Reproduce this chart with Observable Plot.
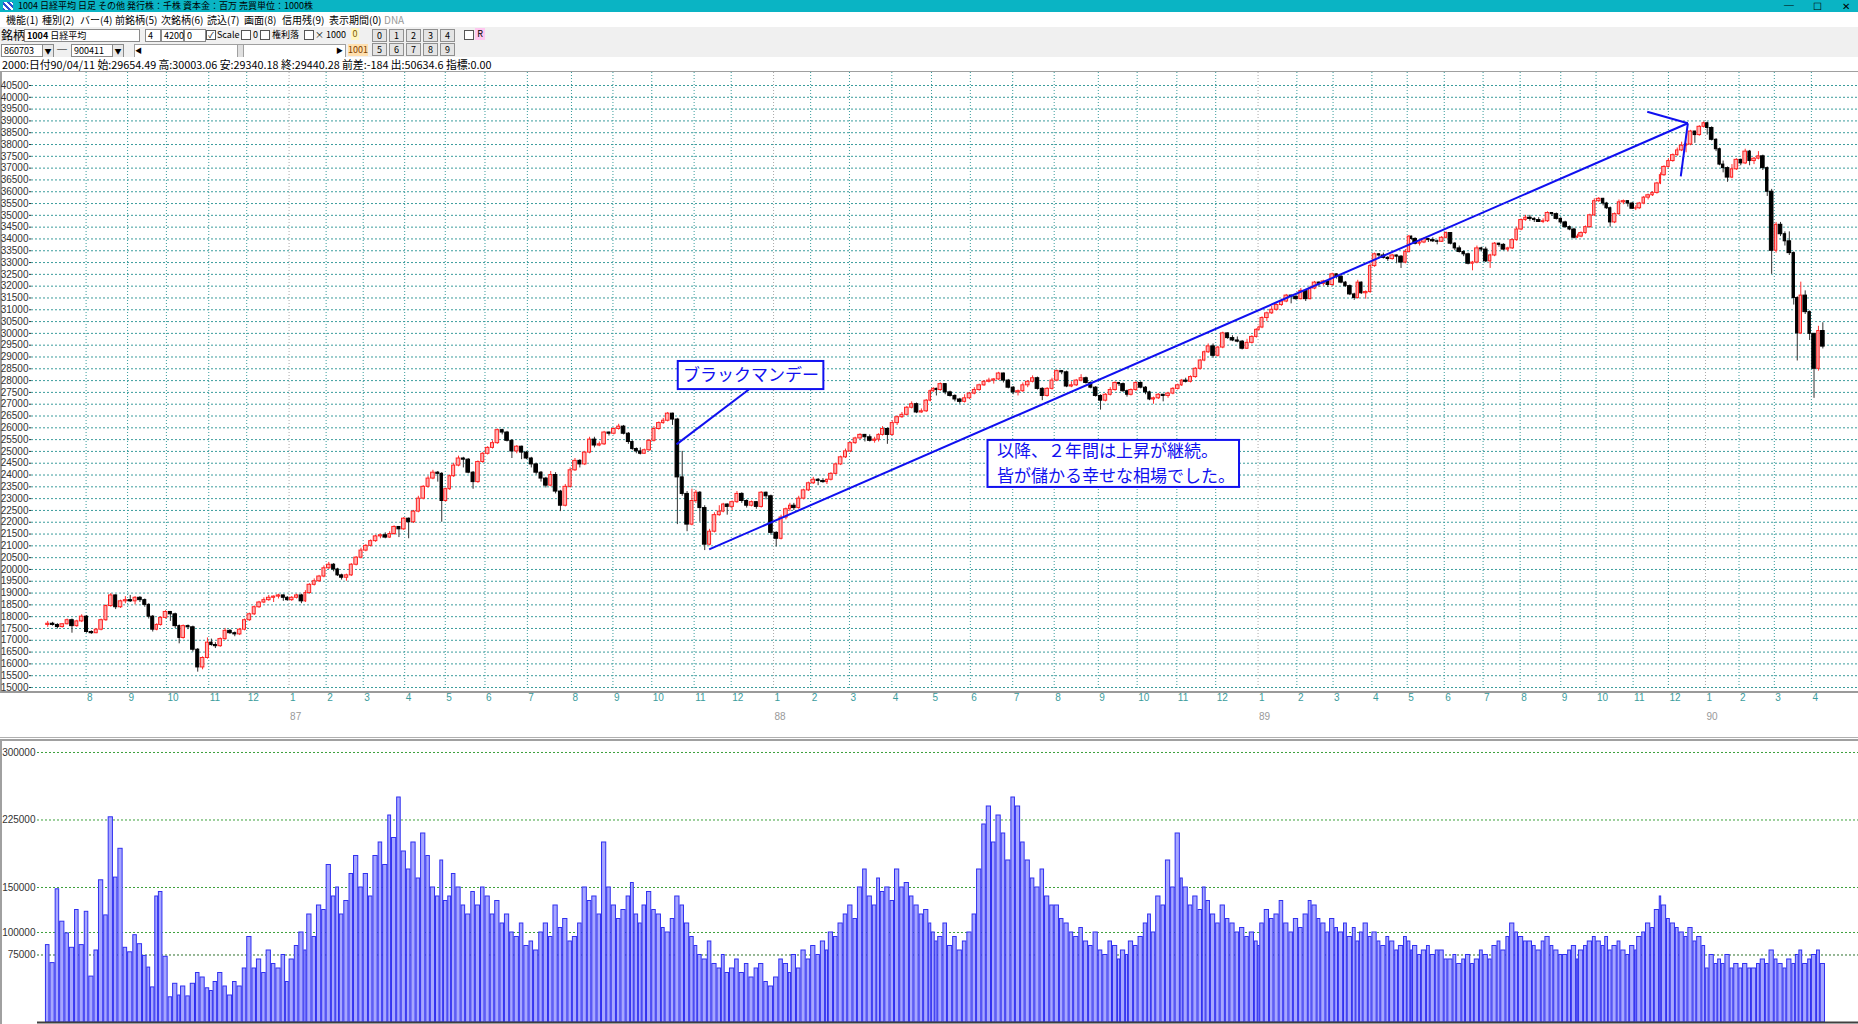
<!DOCTYPE html>
<html lang="ja"><head><meta charset="utf-8">
<script src="https://cdn.jsdelivr.net/npm/d3@7"></script>
<script src="https://cdn.jsdelivr.net/npm/@observablehq/plot@0.6"></script>
<style>
html,body{margin:0;padding:0}
body{width:1858px;height:1024px;overflow:hidden;background:#fff;position:relative;font-family:"Noto Sans CJK JP","Liberation Sans",sans-serif;color:#000}
.a{position:absolute;white-space:nowrap}
#titlebar{left:0;top:0;width:1858px;height:12px;background:#0ab4c4;font-size:9px;line-height:12px}
#menubar{left:0;top:12px;width:1858px;height:15px;background:#fff;font-size:10px;line-height:15px}
#toolbar{left:0;top:27px;width:1858px;height:30px;background:#f0f0f0;font-size:10px}
#info{left:0;top:57px;width:1858px;height:14px;font-size:10.8px;line-height:14px;background:#fff}
#pricePanel{left:0;top:71px;width:1858px;height:622px;border-top:1px solid #a0a0a0;border-left:2px solid #a0a0a0;border-bottom:2px solid #9a9a9a;box-sizing:border-box}
#sep{left:0;top:737px;width:1858px;height:4px;border-top:1px solid #b0b0b0;border-bottom:2px solid #a0a0a0;box-sizing:border-box}
#volPanel{left:0;top:741px;width:1858px;height:283px;border-left:2px solid #a0a0a0;box-sizing:border-box}
#price{left:0;top:72px}
#volume{left:0;top:741px}
.in{position:absolute;background:#fff;border:1px solid #8a8a8a;height:11px;font-size:9px;line-height:11px;padding-left:2px;box-sizing:content-box}
.btn{position:absolute;width:13px;height:11px;border:1px solid #909090;background:#e4e4e4;font-size:9px;line-height:11px;text-align:center}
.cb{position:absolute;width:8px;height:8px;border:1px solid #555;background:#fff;font-size:8px;line-height:8px;text-align:center}
</style></head><body>
<div id="titlebar" class="a"><span class="a" style="left:3px;top:2px;width:10px;height:8px;background:repeating-linear-gradient(45deg,#3050d0 0 2px,#fff 2px 4px)"></span><span class="a" style="left:18px">1004 日経平均 日足 その他 発行株：千株 資本金：百万 売買単位：1000株</span><span class="a" style="left:1784px;font-size:10px">─</span><span class="a" style="left:1813px;font-size:10px">☐</span><span class="a" style="left:1842px;font-size:10px">✕</span></div>
<div id="menubar" class="a"><span class="a" style="left:6px">機能(1)</span><span class="a" style="left:42px">種別(2)</span><span class="a" style="left:80px">バー(4)</span><span class="a" style="left:115px">前銘柄(5)</span><span class="a" style="left:161px">次銘柄(6)</span><span class="a" style="left:207px">読込(7)</span><span class="a" style="left:244px">画面(8)</span><span class="a" style="left:282px">信用残(9)</span><span class="a" style="left:329px">表示期間(0)</span><span class="a" style="left:384px;color:#999">DNA</span></div>
<div id="toolbar" class="a">
<span class="a" style="left:1px;top:1px;font-size:12px;line-height:13px">銘柄</span>
<span class="in" style="left:24px;top:2px;width:112px"><b>1004</b> 日経平均</span>
<span class="in" style="left:145px;top:2px;width:12px">4</span>
<span class="in" style="left:161px;top:2px;width:19px">4200</span>
<span class="in" style="left:184px;top:2px;width:18px">0</span>
<span class="cb" style="left:206px;top:3px">✓</span><span class="a" style="left:217px;top:1px;font-size:9px;line-height:14px">Scale</span>
<span class="cb" style="left:241px;top:3px"></span><span class="a" style="left:253px;top:1px;font-size:9px;line-height:14px">0</span>
<span class="cb" style="left:260px;top:3px"></span><span class="a" style="left:272px;top:1px;font-size:9px;line-height:14px">権利落</span>
<span class="cb" style="left:304px;top:3px"></span><span class="a" style="left:315px;top:1px;font-size:9px;line-height:14px">× 1000</span>
<span class="a" style="left:351px;top:1px;width:8px;height:12px;background:#fff6c0;font-size:9px;line-height:12px;color:#806000;text-align:center">0</span>
<span class="btn" style="left:372px;top:2px">0</span><span class="btn" style="left:389px;top:2px">1</span><span class="btn" style="left:406px;top:2px">2</span><span class="btn" style="left:423px;top:2px">3</span><span class="btn" style="left:440px;top:2px">4</span>
<span class="cb" style="left:464px;top:3px"></span><span class="a" style="left:475px;top:1px;width:10px;height:12px;background:#ffc8f0;font-size:9px;line-height:12px;text-align:center">R</span>
<span class="in" style="left:1px;top:17px;width:40px">860703</span><span class="a" style="left:42px;top:17px;width:10px;height:12px;border:1px solid #8a8a8a;background:#e8e8e8;font-size:7px;line-height:12px;text-align:center">▼</span>
<span class="a" style="left:57px;top:15px;font-size:10px">─</span>
<span class="in" style="left:71px;top:17px;width:40px">900411</span><span class="a" style="left:112px;top:17px;width:10px;height:12px;border:1px solid #8a8a8a;background:#e8e8e8;font-size:7px;line-height:12px;text-align:center">▼</span>
<span class="a" style="left:134px;top:17px;width:210px;height:12px;border:1px solid #a0a0a0;background:#fff"></span><span class="a" style="left:135px;top:18px;font-size:7px">◀</span><span class="a" style="left:336px;top:18px;font-size:7px">▶</span><span class="a" style="left:237px;top:17px;width:5px;height:12px;border:1px solid #a0a0a0;background:#e0e0e0"></span>
<span class="a" style="left:348px;top:17px;width:20px;height:12px;background:#ffe0b0;font-size:9px;line-height:12px;color:#804000;text-align:center">1001</span>
<span class="btn" style="left:372px;top:16px">5</span><span class="btn" style="left:389px;top:16px">6</span><span class="btn" style="left:406px;top:16px">7</span><span class="btn" style="left:423px;top:16px">8</span><span class="btn" style="left:440px;top:16px">9</span>
</div>
<div id="info" class="a"><span class="a" style="left:2px">2000:日付90/04/11 始:29654.49 高:30003.06 安:29340.18 終:29440.28 前差:-184 出:50634.6 指標:0.00</span></div>
<div id="pricePanel" class="a"></div>
<div id="sep" class="a"></div>
<div id="volPanel" class="a"></div>
<div id="price" class="a"></div>
<div id="volume" class="a"></div>
<script>
// ---- data: half-week candles (Mon-Wed, Thu-Sat) of the Nikkei 225, 1986-07-03 .. 1990-04-11
// two entries per week; null = no trading in that half-week
const open = [
null,17650, 17700,17650, 17560,17680, 17850,17600, 17800,18000, 17350,17300, 17450,17850, 18450,18900, 18400,18650, 18700,18650, 18800,18700, 18500,18000, 17450,17650, 17950,18200, 18100,17600, 17100,17600, 17550,16600, 15850,16250, 16900,16800, 16750,17050, 17400,17300, 17250,17450, 17850,18100, 18400,18600, 18700,18800, 18850,18900, 18800,null,
18700,18800, 18900,18650, 19000,19350, 19500,19700, 20050,20200, 20000,19750, 19650,19750, 20200,20500, 20800,21000, 21200,21400, 21450,21350, 21500,21800, 21700,22150, 22000,22450, 23000,23500, 23850,24100, 24050,22900, 23400,23950, 24400,24700, 24650,24100, 23700,24550, 24900,25150, 25350,25900, 25800,25450, 25000,25200, 24950,24700, 24450,24100, 23850,23550, 24000,23300, 22700,23500, 24200,24600, 24450,24950, 25500,25250, 25300,25800, 25750,25950, 26050,25750, 25400,25100, 25000,24900, 25050,25450, 25950,26200, 26300,26600, 26350,23900, 23200,21900, 22900,23250, 22600,21050, 21600,22300, 22450,22750, 22650,22850, 23200,22900, 22700,22850, 22650,23250, 23100,null,
21550,21300, 22200,22550, 22700,22600, 23000,23350, 23650,23800, 23750,23700, 23800,24050, 24450,24750, 25000,25350, 25550,25700, 25600,25450, 25500,25700, 25950,25700, 26200,26450, 26550,26850, 27000,26650, 26700,27150, 27550,27650, 27600,27850, 27500,27350, 27200,27100, 27250,27450, 27600,27800, 27950,28000, 28050,28300, 28000,27700, 27500,27550, 27800,27950, 28100,27650, 27350,27650, 28000,28400, 28350,27750, 27800,28000, 28100,27900, 27700,27350, 27150,27400, 27600,27900, 27850,27550, 27400,27600, 27900,27700, 27500,27200, 27250,27400, 27350,27450, 27650,27800, 28000,27950, 28150,28500, 28850,29200, 29450,29050, 29400,30000, 29800,29700, 29650,29350, 29600,29850,
30150,30250, 30650,30850, 31000,31200, 31350,31600, 31550,31450, 31800,31450, 31900,32150, 32100,32200, 32050,32500, 32400,32150, 32000,31650, 31500,32150, 31700,31750, 32850,33350, 33300,33200, 33150,33300, 33250,33000, 33450,34100, 34000,33800, 33850,34000, 33950,33900, 33880,34050, 34250,33800, 33600,33450, 33350,32950, 33000,33600, 33550,33050, 33300,33800, 33750,33550, 33600,33950, 34400,34800, 34900,34850, 34800,34720, 34750,35100, 35050,34850, 34700,34500, 34400,34050, 34100,34250, 34500,35000, 35600,35700, 35500,35300, 34700,35050, 35550,35600, 35500,35280, 35300,35500, 35750,35850, 35950,36350, 36700,37050, 37300,37550, 37750,37950, 38000,38550, 38400,38750,
null,38900, 38700,38200, 37800,37150, 37000,36600, 36950,37350, 37200,37700, 37300,37400, 37500,37000, 36000,33500, 34600,34200, 33900,33400, 31500,30000, 31600,30900, 29980,28500, 30100,null];
const high = [
null,17800, 17760,17700, 17700,17900, 17900,17850, 18080,18050, 17400,17500, 17900,18500, 18980,18920, 18700,18850, 18900,18850, 18850,18750, 18550,18050, 17700,18000, 18250,18220, 18150,17650, 17650,17650, 17600,16650, 16300,17100, 17050,16900, 17100,17500, 17450,17350, 17500,17900, 18150,18450, 18650,18800, 18900,18880, 18950,18920, 18850,null,
18850,18950, 18950,19100, 19400,19600, 19750,20150, 20300,20250, 20050,19800, 19800,20250, 20550,20900, 21050,21250, 21450,21500, 21550,21600, 21850,21820, 22200,22180, 22500,23100, 23550,23950, 24200,24150, 24100,23450, 24000,24500, 24800,24750, 24700,24150, 24600,24950, 25200,25450, 25950,25940, 25850,25500, 25250,25220, 25000,24750, 24500,24150, 23900,24150, 24100,23350, 23600,24300, 24700,24650, 25000,25600, 25600,25400, 25850,25820, 26000,26150, 26100,25800, 25450,25150, 25150,25100, 25500,26050, 26250,26400, 26650,26620, 26400,25000, 23300,23400, 23350,23300, 22700,21700, 22400,22700, 22800,22780, 22900,23300, 23250,22950, 22900,22880, 23300,23280, 23150,null,
21600,22300, 22600,22800, 22800,23100, 23400,23700, 23900,23850, 23850,23820, 24100,24500, 24800,25100, 25400,25600, 25750,25720, 25700,25600, 25750,26050, 26000,26300, 26500,26650, 26900,27100, 27050,26800, 27200,27600, 27700,27680, 27900,27870, 27550,27400, 27250,27400, 27500,27700, 27850,28000, 28100,28080, 28350,28320, 28050,27750, 27600,27900, 28000,28200, 28150,27700, 27700,28100, 28450,28430, 28400,27950, 28050,28250, 28150,27950, 27750,27400, 27450,27700, 27950,27920, 27900,27600, 27650,27950, 27950,27750, 27550,27300, 27450,27420, 27500,27700, 27850,28050, 28100,28200, 28550,28900, 29250,29550, 29550,29450, 30050,30020, 29900,29850, 29700,29750, 29900,30200,
30300,30700, 30900,31150, 31250,31450, 31650,31620, 31600,31900, 31850,32000, 32200,32180, 32250,32220, 32550,32520, 32450,32200, 32050,31700, 32250,32180, 31800,32950, 33400,33380, 33400,33250, 33350,33320, 33300,33550, 34150,34120, 34050,33900, 34050,34020, 34050,33950, 34100,34300, 34250,33850, 33700,33500, 33400,33050, 33700,33650, 33650,33350, 33850,33820, 33800,33650, 34000,34500, 34850,35000, 35000,34900, 34900,34850, 35150,35120, 35100,34900, 34750,34550, 34450,34200, 34300,34550, 35050,35700, 35750,35720, 35550,35350, 35100,35650, 35650,35620, 35550,35400, 35550,35800, 35900,36000, 36400,36800, 37100,37400, 37600,37850, 38100,38050, 38600,38560, 38800,38960,
null,38950, 38750,38250, 37850,37300, 37050,37150, 37400,37380, 37800,37750, 37450,37700, 37550,37050, 36100,34700, 34700,34300, 34300,33450, 31550,32170, 31800,30950, 30000,30300, 30450,null];
const low = [
null,17550, 17600,17480, 17520,17650, 17300,17550, 17750,17300, 17250,17280, 17400,17800, 18400,18300, 18350,18550, 18600,18500, 18600,18400, 17900,17350, 17400,17600, 17900,17800, 17500,16850, 17050,17450, 16500,15650, 15750,16200, 16750,16650, 16700,17000, 17250,17150, 17200,17400, 17800,18050, 18350,18550, 18650,18600, 18750,18650, 18650,null,
18650,18750, 18550,18600, 18950,19300, 19450,19650, 20000,19900, 19700,19550, 19500,19700, 20150,20450, 20750,20950, 21150,21300, 21300,21320, 21450,21350, 21650,21300, 21950,22400, 22950,23450, 23800,23700, 22000,22850, 23350,23900, 24350,24300, 24050,23400, 23650,24500, 24850,25100, 25300,25700, 25400,24700, 24900,24650, 24650,24300, 24000,23700, 23450,23500, 23200,22450, 22650,23450, 24150,24300, 24400,24900, 25150,25200, 25250,25650, 25700,25900, 25700,25300, 25050,24900, 24850,24870, 25000,25400, 25900,26150, 26250,26100, 21900,23100, 21600,21850, 22800,22000, 20800,21000, 21550,22250, 22400,22300, 22500,22800, 22800,22600, 22650,22550, 22600,22950, 21450,null,
20950,21250, 22100,22450, 22500,22550, 22950,23300, 23600,23550, 23650,23600, 23750,24000, 24400,24700, 24950,25300, 25500,25400, 25400,25350, 25400,25650, 25300,25650, 26100,26400, 26500,26800, 26600,26620, 26650,27100, 27500,27350, 27550,27400, 27300,27100, 27000,27050, 27200,27400, 27550,27750, 27900,27850, 28000,27900, 27650,27400, 27350,27500, 27700,27900, 27600,27150, 27300,27600, 27950,28250, 27700,27700, 27750,27950, 27850,27650, 27300,26750, 27100,27350, 27550,27750, 27500,27300, 27350,27550, 27650,27400, 27150,27000, 27200,27100, 27250,27400, 27600,27750, 27900,27900, 28100,28450, 28800,29150, 28950,29000, 29350,29750, 29650,29600, 29300,29320, 29550,29800,
30100,30200, 30500,30800, 30950,31150, 31300,31250, 31400,31420, 31350,31420, 31850,31950, 32000,31950, 32000,32300, 32100,31950, 31600,31400, 31450,31650, 31450,31700, 32800,33200, 33150,33050, 33100,32950, 32750,32950, 33400,33950, 33750,33700, 33800,33850, 33850,33750, 33850,34000, 33750,33500, 33400,33250, 32900,32650, 32950,33450, 33000,32750, 33250,33650, 33500,33450, 33550,33900, 34350,34750, 34750,34700, 34700,34650, 34700,34950, 34800,34600, 34450,34350, 34000,34020, 34050,34200, 34450,34950, 35550,35400, 35250,34500, 34650,35000, 35450,35350, 35250,35200, 35250,35450, 35650,35800, 35900,36300, 36650,37000, 37250,37500, 37700,37650, 37950,38050, 38350,38700,
null,38400, 38150,37700, 37100,36800, 36400,36550, 36900,37100, 37150,37100, 37150,37350, 36900,35800, 32500,33400, 34100,33700, 33300,31200, 28830,29950, 30800,29700, 27250,28400, 29340,null];
const close = [
null,17700, 17650,17560, 17680,17850, 17600,17800, 18000,17350, 17300,17450, 17850,18450, 18900,18400, 18650,18700, 18650,18800, 18700,18500, 18000,17450, 17650,17950, 18200,18100, 17600,17100, 17600,17550, 16600,15850, 16250,16900, 16800,16750, 17050,17400, 17300,17250, 17450,17850, 18100,18400, 18600,18700, 18800,18850, 18900,18800, 18700,null,
18800,18900, 18650,19000, 19350,19500, 19700,20050, 20200,20000, 19750,19650, 19750,20200, 20500,20800, 21000,21200, 21400,21450, 21350,21500, 21800,21700, 22150,22000, 22450,23000, 23500,23850, 24100,24050, 22900,23400, 23950,24400, 24700,24650, 24100,23700, 24550,24900, 25150,25350, 25900,25800, 25450,25000, 25200,24950, 24700,24450, 24100,23850, 23550,24000, 23300,22700, 23500,24200, 24600,24450, 24950,25500, 25250,25300, 25800,25750, 25950,26050, 25750,25400, 25100,25000, 24900,25050, 25450,25950, 26200,26300, 26600,26350, 23900,23200, 21900,22900, 23250,22600, 21050,21600, 22300,22450, 22750,22650, 22850,23200, 22900,22700, 22850,22650, 23250,23100, 21550,null,
21300,22200, 22550,22700, 22600,23000, 23350,23650, 23800,23750, 23700,23800, 24050,24450, 24750,25000, 25350,25550, 25700,25600, 25450,25500, 25700,25950, 25700,26200, 26450,26550, 26850,27000, 26650,26700, 27150,27550, 27650,27600, 27850,27500, 27350,27200, 27100,27250, 27450,27600, 27800,27950, 28000,28050, 28300,28000, 27700,27500, 27550,27800, 27950,28100, 27650,27350, 27650,28000, 28400,28350, 27750,27800, 28000,28100, 27900,27700, 27350,27150, 27400,27600, 27900,27850, 27550,27400, 27600,27900, 27700,27500, 27200,27250, 27400,27350, 27450,27650, 27800,28000, 27950,28150, 28500,28850, 29200,29450, 29050,29400, 30000,29800, 29700,29650, 29350,29600, 29850,30150,
30250,30650, 30850,31000, 31200,31350, 31600,31550, 31450,31800, 31450,31900, 32150,32100, 32200,32050, 32500,32400, 32150,32000, 31650,31500, 32150,31700, 31750,32850, 33350,33300, 33200,33150, 33300,33250, 33000,33450, 34100,34000, 33800,33850, 34000,33950, 33900,33880, 34050,34250, 33800,33600, 33450,33350, 32950,33000, 33600,33550, 33050,33300, 33800,33750, 33550,33600, 33950,34400, 34800,34900, 34850,34800, 34720,34750, 35100,35050, 34850,34700, 34500,34400, 34050,34100, 34250,34500, 35000,35600, 35700,35500, 35300,34700, 35050,35550, 35600,35500, 35280,35300, 35500,35750, 35850,35950, 36350,36700, 37050,37300, 37550,37750, 37950,38000, 38550,38400, 38750,38900,
null,38700, 38200,37800, 37150,37000, 36600,36950, 37350,37200, 37700,37300, 37400,37500, 37000,36000, 33500,34600, 34200,33900, 33400,31500, 30000,31600, 30900,29980, 28500,30100, 29440,null];
const volume = [
null,86000, 66000,148000, 112000,99000, 83000,125000, 86000,123000, 51000,80000, 158000,119000, 228000,161000, 193000,83000, 78000,97000, 87000,74000, 61000,39000, 140000,145000, 73000,28000, 43000,30000, 40000,29000, 43000,55000, 50000,38000, 35000,45000, 55000,40000, 30000,45000, 40000,60000, 95000,60000, 70000,55000, 80000,65000, 60000,75000, 45000,null,
70000,85000, 100000,80000, 120000,95000, 130000,125000, 175000,140000, 150000,120000, 135000,165000, 185000,150000, 165000,140000, 185000,200000, 175000,230000, 205000,250000, 190000,170000, 200000,160000, 210000,185000, 150000,140000, 180000,135000, 140000,165000, 150000,130000, 120000,145000, 130000,150000, 140000,120000, 135000,110000, 120000,100000, 95000,110000, 85000,90000, 80000,100000, 110000,95000, 130000,105000, 115000,90000, 95000,110000, 150000,135000, 140000,120000, 200000,150000, 130000,115000, 125000,140000, 155000,120000, 110000,130000, 145000,125000, 120000,105000, 100000,115000, 140000,130000, 110000,95000, 85000,75000, 70000,90000, 65000,60000, 75000,55000, 60000,70000, 55000,65000, 50000,60000, 65000,45000, 40000,null,
50000,70000, 65000,55000, 75000,60000, 80000,70000, 85000,75000, 90000,80000, 100000,95000, 110000,120000, 130000,115000, 150000,170000, 140000,130000, 160000,145000, 150000,135000, 170000,150000, 155000,140000, 130000,120000, 125000,110000, 100000,90000, 95000,110000, 85000,95000, 80000,90000, 100000,120000, 170000,220000, 240000,200000, 230000,210000, 180000,250000, 240000,200000, 180000,160000, 150000,170000, 140000,130000, 130000,115000, 110000,100000, 95000,105000, 90000,85000, 100000,80000, 75000,90000, 85000,70000, 80000,75000, 90000,85000, 95000,110000, 120000,100000, 140000,130000, 180000,150000, 210000,160000, 150000,130000, 140000,125000, 150000,135000, 120000,110000, 130000,115000, 110000,100000, 105000,95000, 100000,90000,
85000,110000, 125000,115000, 120000,135000, 110000,100000, 115000,105000, 120000,135000, 130000,115000, 110000,100000, 115000,105000, 100000,110000, 95000,105000, 90000,100000, 110000,95000, 100000,90000, 85000,95000, 90000,80000, 85000,95000, 90000,80000, 85000,75000, 80000,85000, 75000,80000, 80000,70000, 70000,75000, 65000,70000, 75000,65000, 70000,80000, 75000,70000, 85000,90000, 80000,95000, 110000,100000, 95000,90000, 90000,85000, 80000,90000, 95000,85000, 80000,75000, 75000,80000, 85000,70000, 80000,85000, 90000,95000, 90000,85000, 95000,80000, 85000,90000, 80000,75000, 85000,80000, 95000,100000, 110000,105000, 125000,140000, 130000,115000, 110000,105000, 100000,95000, 105000,90000, 95000,85000,
null,60000, 75000,65000, 70000,65000, 75000,60000, 65000,60000, 65000,60000, 60000,65000, 70000,65000, 80000,70000, 65000,60000, 70000,65000, 75000,80000, 65000,70000, 75000,80000, 65000,null];
const priceTicks = [15000,15500,16000,16500,17000,17500,18000,18500,19000,19500,20000,20500,21000,21500,22000,22500,23000,23500,24000,24500,25000,25500,26000,26500,27000,27500,28000,28500,29000,29500,30000,30500,31000,31500,32000,32500,33000,33500,34000,34500,35000,35500,36000,36500,37000,37500,38000,38500,39000,39500,40000,40500];
const volumeTicks = [75000,100000,150000,225000,300000];
const yearLabels = ["87","88","89","90"];
const blackMondayText = "ブラックマンデー";
const noteLines = ["以降、２年間は上昇が継続。", "皆が儲かる幸せな相場でした。"];

// ---- trading-day calendar (x position = trading day count, like the original app)
const DAY = 864e5;
const FIRST = Date.UTC(1986,6,3), LAST = Date.UTC(1990,3,11), SAT_END = Date.UTC(1989,1,11);
const holidays = new Set(["0-1","0-2","0-3","0-15","1-11","2-21","3-29","4-3","4-5","8-15","8-23","9-10","10-3","10-23","11-31"]);
function weight(t){
  if (t < FIRST || t > LAST) return 0;
  const d = new Date(t), dow = d.getUTCDay();
  if (dow === 0) return 0;
  if (holidays.has(d.getUTCMonth()+"-"+d.getUTCDate())) return 0;
  if (dow === 6) return t < SAT_END ? 0.5 : 0;
  return 1;
}
const cum = new Map(); let acc = 0;
for (let t = Date.UTC(1986,5,1); t <= Date.UTC(1990,5,1); t += DAY){ cum.set(t, acc); acc += weight(t); }
const idx = d => cum.get(+d);
const U = (y,m,d) => new Date(Date.UTC(y,m-1,d));
const idxEnd = idx(U(1990,4,12));

// half-week periods: Monday (Mon-Wed) and Thursday (Thu-Sat)
const periods = [];
for (const m of d3.utcMonday.range(U(1986,6,30), U(1990,4,10))) {
  periods.push([m, new Date(+m + 3*DAY)], [new Date(+m + 3*DAY), new Date(+m + 7*DAY)]);
}
const n = Math.min(periods.length, open.length, high.length, low.length, close.length, volume.length);
const candles = [];
for (let i = 0; i < n; i++) {
  if (open[i] == null) continue;
  const a = idx(periods[i][0]), b = idx(periods[i][1]), c = (a+b)/2, w = (b-a)*0.34;
  candles.push({a, b, c, x1: c-w, x2: c+w, open: open[i], high: high[i], low: low[i], close: close[i], volume: volume[i], up: close[i] >= open[i]});
}
const months = d3.utcMonth.range(U(1986,8,1), U(1990,4,2));
const years = months.filter(d => d.getUTCMonth() === 0);

const GRID = "#3a9c9c", BLUE = "#1010f0";
const font = "'Liberation Sans', 'DejaVu Sans', sans-serif";
const jfont = "'Noto Sans CJK JP', sans-serif";

// annotation anchors (dates / prices)
const bm = {x1: idx(U(1987,10,21)), x2: idx(U(1988,2,10)), y1: 27620, y2: 28810};
const note = {x1: idx(U(1988,6,14)), x2: idx(U(1988,12,19)), y1: 23475, y2: 25466};

const price = Plot.plot({
  width: 1858, height: 668, marginTop: 13, marginBottom: 53, marginLeft: 31, marginRight: 0,
  x: {domain: [0, idxEnd], insetLeft: 14, insetRight: 33, axis: null},
  y: {domain: [15000, 40500], axis: null},
  style: {background: "transparent", fontFamily: font, overflow: "visible"},
  marks: [
    Plot.ruleY(priceTicks, {stroke: GRID, strokeDasharray: "2,2"}),
    Plot.ruleX(months, {x: d => idx(d), stroke: d => d.getUTCMonth() === 0 ? "#a8a8a8" : GRID, strokeDasharray: "1,2", insetTop: -13, insetBottom: -3}),
    Plot.axisY(priceTicks, {anchor: "left", label: null, tickSize: 2, tickPadding: 1, tickFormat: d => String(d), fontSize: 10, color: "#333"}),
    Plot.text(months, {x: d => idx(d), frameAnchor: "bottom", dy: 13, dx: 1, textAnchor: "start", text: d => String(d.getUTCMonth()+1), fill: "#3a9c9c", fontSize: 10}),
    Plot.text(years, {x: d => idx(d), frameAnchor: "bottom", dy: 32, dx: 1, textAnchor: "start", text: (d,i) => yearLabels[i], fill: "#999", fontSize: 10}),
    Plot.ruleX(candles, {x: "c", y1: "low", y2: "high", stroke: d => d.up ? "#ff3030" : "#303030", strokeWidth: 1}),
    Plot.rect(candles, {x1: "x1", x2: "x2", y1: "open", y2: "close", fill: d => d.up ? "#ffb0b0" : "#000", stroke: d => d.up ? "#ff2020" : "#000", strokeWidth: 1}),
    // annotations
    Plot.link([{x1: idx(U(1987,11,13)), y1: 20850, x2: idx(U(1989,12,18)), y2: 38900}], {x1: "x1", y1: "y1", x2: "x2", y2: "y2", stroke: BLUE, strokeWidth: 2}),
    Plot.link([{x1: idx(U(1989,11,14)), y1: 39390, x2: idx(U(1989,12,18)), y2: 38900}, {x1: idx(U(1989,12,12)), y1: 36650, x2: idx(U(1989,12,18)), y2: 38900}], {x1: "x1", y1: "y1", x2: "x2", y2: "y2", stroke: BLUE, strokeWidth: 2}),
    Plot.link([{x1: idx(U(1987,10,20)), y1: 25300, x2: idx(U(1987,12,14)), y2: 27620}], {x1: "x1", y1: "y1", x2: "x2", y2: "y2", stroke: BLUE, strokeWidth: 2}),
    Plot.rect([bm], {x1: "x1", x2: "x2", y1: "y1", y2: "y2", fill: "#fff", stroke: BLUE, strokeWidth: 2}),
    Plot.text([blackMondayText], {x: (bm.x1 + bm.x2) / 2, y: (bm.y1 + bm.y2) / 2, text: d => d, fill: BLUE, fontSize: 17, fontFamily: jfont}),
    Plot.rect([note], {x1: "x1", x2: "x2", y1: "y1", y2: "y2", fill: "#fff", stroke: BLUE, strokeWidth: 2}),
    Plot.text([noteLines[0]], {x: note.x1, y: (note.y1 + note.y2) / 2, dx: 9, dy: -12.5, textAnchor: "start", text: d => d, fill: BLUE, fontSize: 17, fontFamily: jfont}),
    Plot.text([noteLines[1]], {x: note.x1, y: (note.y1 + note.y2) / 2, dx: 9, dy: 12.5, textAnchor: "start", text: d => d, fill: BLUE, fontSize: 17, fontFamily: jfont})
  ]
});
document.getElementById("price").append(price);

const vol = Plot.plot({
  width: 1858, height: 283, marginTop: 0, marginBottom: 2, marginLeft: 37, marginRight: 0,
  x: {domain: [0, idxEnd], insetLeft: 8, insetRight: 33, axis: null},
  y: {domain: [0, 312222], axis: null},
  style: {background: "transparent", fontFamily: font, overflow: "visible"},
  marks: [
    Plot.ruleY(volumeTicks, {stroke: d => d === 75000 ? "#2d6f2d" : "#3ca03c", strokeDasharray: "2,2"}),
    Plot.axisY(volumeTicks, {anchor: "left", label: null, tickSize: 0, tickPadding: 2, tickFormat: d => String(d), fontSize: 10, color: "#333"}),
    Plot.rect(candles, {x1: d => d.a + (d.b-d.a)*0.1, x2: d => d.b - (d.b-d.a)*0.1, y1: 0, y2: "volume", fill: "#a6a6ff", stroke: "#3030f0", strokeWidth: 1}),
    Plot.ruleY([0], {stroke: "#404040", strokeWidth: 2})
  ]
});
document.getElementById("volume").append(vol);
</script>
</body></html>
